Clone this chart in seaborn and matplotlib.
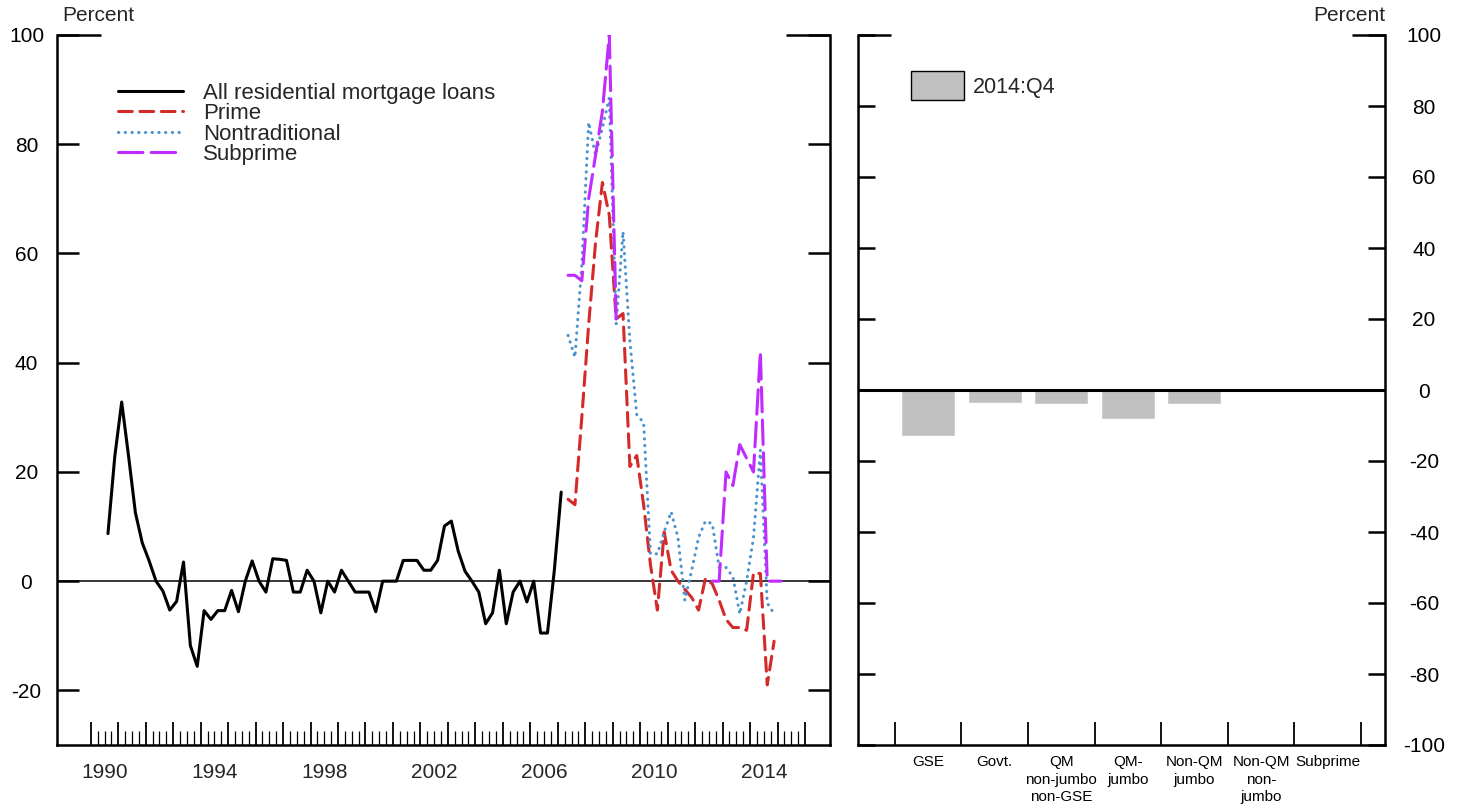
import numpy as np
import pandas as pd
import matplotlib
matplotlib.use("Agg")
import matplotlib.pyplot as plt
import seaborn as sns
from matplotlib.lines import Line2D
from matplotlib.patches import Patch

sns.set_theme(style="white")
plt.rcParams["font.family"] = ["Liberation Sans", "DejaVu Sans"]
plt.rcParams["axes.unicode_minus"] = False

# ------------------------------
# Data (quarterly, percent)
# ------------------------------
all_loans_start = "1990Q3"
all_loans = [8.7, 22.9, 32.8, 22.9, 12.5, 7.0, 3.7, 0.0, -1.8, -5.3, -3.7, 3.5,
             -11.8, -15.6, -5.4, -7.0, -5.4, -5.4, -1.7, -5.6, 0.0, 3.7, 0.0, -2.0,
             4.1, 4.0, 3.8, -2.0, -2.0, 2.0, 0.0, -5.8, 0.0, -2.0, 2.0, 0.0,
             -2.0, -2.0, -2.0, -5.6, 0.0, 0.0, 0.0, 3.8, 3.8, 3.8, 2.0, 2.0,
             3.8, 10.1, 11.0, 5.5, 1.8, 0.0, -2.0, -7.8, -5.8, 2.0, -7.8, -2.0,
             0.0, -3.8, 0.0, -9.5, -9.5, 2.0, 16.3]

segments_start = "2007Q2"
prime = [15, 14, 30, 47, 62, 73, 67, 48, 49, 21, 23, 14, 3, -5.3, 9, 2,
         0, -1.5, -3, -5.3, 0.5, -0.5, -3.5, -7, -8.5, -8.5, -9, 1.5, 1.4, -19, -11]
nontraditional = [45, 41, 58, 84, 78, 83, 88.5, 47, 64, 44, 30.5, 29, 5, 5, 9, 12.7,
                  8, -3.5, 2, 8, 11, 10.5, 2.5, 2.5, 0.8, -6, 0, 8, 24, -4, -6]
subprime = [56, 56, 55, 70, 78, 86, 100, 48,
            np.nan, np.nan, np.nan, np.nan, np.nan, np.nan, np.nan, np.nan,
            np.nan, np.nan, np.nan, np.nan, np.nan,
            0, 0, 20, 17.5, 25, 22.5, 20, 42, 0, 0, 0]

year_labels = [1990, 1994, 1998, 2002, 2006, 2010, 2014]

bar_categories = ["GSE", "Govt.", "QM\nnon-jumbo\nnon-GSE", "QM-\njumbo",
                  "Non-QM\njumbo", "Non-QM\nnon-\njumbo", "Subprime"]
bar_values = [-12.9, -3.6, -3.9, -8.1, -3.9, 0.0, 0.0]
bar_label = "2014:Q4"


def quarter_frame(start, values):
    periods = pd.period_range(start, periods=len(values), freq="Q")
    df = pd.DataFrame({
        "x": periods.year + (periods.quarter - 1) / 4 + 0.125,
        "value": values,
    })
    df["segment"] = df["value"].isna().cumsum()
    return df.dropna()


W, H = 1461, 811
fig = plt.figure(figsize=(W / 100, H / 100), dpi=100)
ax1 = fig.add_axes([57 / W, 1 - 745 / H, 773 / W, 710 / H])
ax2 = fig.add_axes([858 / W, 1 - 745 / H, 527 / W, 710 / H])

# ------------------------------
# Left panel: lines
# ------------------------------
series = [
    ("All residential mortgage loans", quarter_frame(all_loans_start, all_loans),
     "black", "-"),
    ("Prime", quarter_frame(segments_start, prime), "#d42a2a", (0, (4.5, 2.5))),
    ("Nontraditional", quarter_frame(segments_start, nontraditional), "#4a93cf",
     (0, (0.1, 2.1))),
    ("Subprime", quarter_frame(segments_start, subprime), "#c02cff", (0, (8, 2.7))),
]

ax1.axhline(0, color="black", lw=1.1, zorder=1)
handles = []
for name, df, color, ls in series:
    sns.lineplot(data=df, x="x", y="value", units="segment", estimator=None,
                 color=color, linestyle=ls, lw=2.2, legend=False, ax=ax1,
                 dash_capstyle="round", zorder=3)
    handles.append(Line2D([], [], color=color, linestyle=ls, lw=2.2,
                          dash_capstyle="round", label=name))

ax1.set_xlim(1988.77, 2016.91)
ax1.set_ylim(-30, 100)
ax1.set_xlabel("")
ax1.set_ylabel("")

for side in ["left", "right", "bottom"]:
    ax1.spines[side].set_color("black")
    ax1.spines[side].set_linewidth(1.8)
ax1.spines["top"].set_visible(False)

ax1.set_yticks(np.arange(-20, 101, 20))
ax1.set_yticks([100], minor=True)
ax1.yaxis.remove_overlapping_locs = False
ax1.tick_params(axis="y", which="major", direction="in", length=15.8, width=1.8,
                left=True, right=True, labelsize=15, pad=22, colors="black")
ax1.tick_params(axis="y", which="minor", direction="in", length=31.7, width=1.8,
                left=True, right=True, labelleft=False, colors="black")
for lab in ax1.get_yticklabels():
    lab.set_horizontalalignment("center")

ax1.set_xticks(np.arange(1990, 2017))
ax1.set_xticks(np.arange(1990, 2016.01, 0.25), minor=True)
ax1.tick_params(axis="x", which="major", direction="in", length=16.5, width=1.3,
                bottom=True, labelbottom=False, colors="black")
ax1.tick_params(axis="x", which="minor", direction="in", length=10, width=0.9,
                bottom=True, colors="black")
for yr in year_labels:
    ax1.text(yr + 0.5, -0.0465, str(yr), transform=ax1.get_xaxis_transform(),
             ha="center", va="baseline", fontsize=15)

ax1.legend(handles=handles, loc="upper left", bbox_to_anchor=(0.079, 0.933),
           frameon=False, fontsize=16, handlelength=2.93, handletextpad=0.9,
           labelspacing=-0.02, borderpad=0, borderaxespad=0)

# ------------------------------
# Right panel: bars
# ------------------------------
bars = pd.DataFrame({"category": bar_categories, "value": bar_values})
sns.barplot(data=bars, x="category", y="value", color="#c0c0c0", width=0.81,
            saturation=1, ax=ax2, zorder=2)
ax2.axhline(0, color="black", lw=2.2, zorder=3)
ax2.set_xlim(-1.05, 6.86)
ax2.set_ylim(-100, 100)
ax2.set_xlabel("")
ax2.set_ylabel("")

for side in ["left", "right", "bottom"]:
    ax2.spines[side].set_color("black")
    ax2.spines[side].set_linewidth(1.8)
ax2.spines["top"].set_visible(False)

ax2.set_yticks(np.arange(-100, 101, 20))
ax2.set_yticks([100], minor=True)
ax2.yaxis.remove_overlapping_locs = False
ax2.tick_params(axis="y", which="major", direction="in", length=12.2, width=1.8,
                left=True, right=True, labelleft=False, labelright=True,
                labelsize=15, pad=28, colors="black")
ax2.tick_params(axis="y", which="minor", direction="in", length=23.8, width=1.8,
                left=True, right=True, labelleft=False, labelright=False,
                colors="black")
for lab in ax2.get_yticklabels():
    lab.set_horizontalalignment("center")

ax2.set_xticks(np.arange(-0.5, 7, 1.0), labels=[""] * 8)
ax2.set_xticks(np.arange(len(bar_categories)), labels=bar_categories, minor=True)
ax2.xaxis.remove_overlapping_locs = False
ax2.tick_params(axis="x", which="major", direction="in", length=16.5, width=1.3,
                bottom=True, colors="black")
ax2.tick_params(axis="x", which="minor", length=0, labelsize=11, pad=7,
                colors="black")
for lab in ax2.get_xticklabels(minor=True):
    lab.set_linespacing(1.35)

ax2.legend(handles=[Patch(facecolor="#c0c0c0", edgecolor="black", lw=1.0,
                          label=bar_label)],
           loc="upper left", bbox_to_anchor=(0.1006, 0.949), frameon=False,
           fontsize=15.5, handlelength=2.45, handleheight=1.67,
           handletextpad=0.42, borderpad=0, borderaxespad=0)

fig.text(62 / W, 1 - 21 / H, "Percent", ha="left", va="baseline", fontsize=15)
fig.text(1385 / W, 1 - 21 / H, "Percent", ha="right", va="baseline", fontsize=15)

fig.savefig("out.png", dpi=100)
